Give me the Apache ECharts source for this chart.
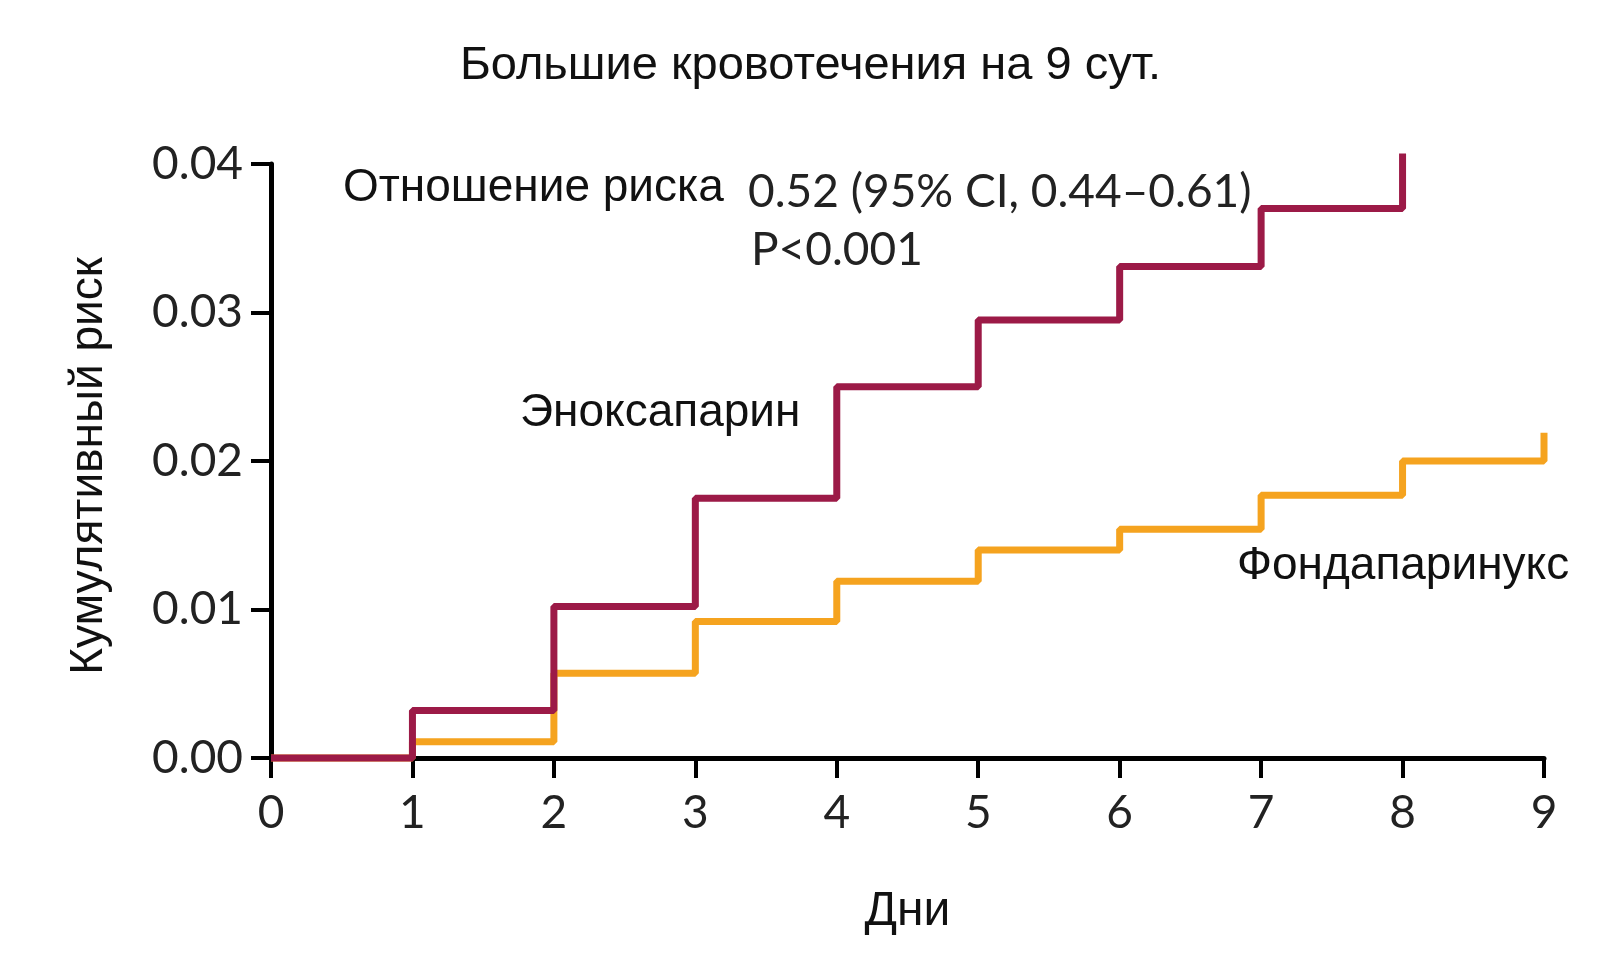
<!DOCTYPE html>
<html>
<head>
<meta charset="utf-8">
<script src="https://cdn.jsdelivr.net/npm/echarts@6/dist/echarts.min.js"></script>
<style>
  html, body { margin: 0; padding: 0; background: #fff; }
  #chart { width: 1607px; height: 957px; }
</style>
</head>
<body>
<div id="chart"></div>
<script>
// дни наблюдения
var days = [0, 1, 2, 3, 4, 5, 6, 7, 8, 9];
// кумулятивный риск
var enoxaparin = [0, 0.0032, 0.0102, 0.0175, 0.0250, 0.0295, 0.0331, 0.0370, 0.0407];
var fondaparinux = [0, 0.0011, 0.0057, 0.0092, 0.0119, 0.0140, 0.0154, 0.0177, 0.0200, 0.0219];
var yTicks = [0, 0.01, 0.02, 0.03, 0.04];

var myChart = echarts.init(document.getElementById('chart'));

function toPairs(vals) {
  return vals.map(function (v, i) { return [days[i], v]; });
}

var numFont = 'Lato';
var textFont = '"Liberation Sans", Arial, sans-serif';

var option = {
  backgroundColor: '#fff',
  animation: false,
  title: {
    text: 'Большие кровотечения на 9 сут.',
    left: 455,
    top: 38,
    textStyle: { fontFamily: textFont, fontSize: 47, fontWeight: 'normal', color: '#111' }
  },
  grid: { left: 271, right: 63, top: 164, bottom: 199 },
  xAxis: {
    type: 'value',
    min: 0,
    max: 9,
    interval: 1,
    name: 'Дни',
    nameLocation: 'middle',
    nameGap: 130,
    nameTextStyle: { fontFamily: textFont, fontSize: 48, color: '#111' },
    axisLine: { lineStyle: { color: '#000', width: 5 } },
    axisTick: { length: 20, lineStyle: { color: '#000', width: 4 } },
    axisLabel: { fontFamily: numFont, fontSize: 46, color: '#222', margin: 32 },
    splitLine: { show: false }
  },
  yAxis: {
    type: 'value',
    min: 0,
    max: 0.04,
    interval: 0.01,
    name: 'Кумулятивный риск',
    nameLocation: 'middle',
    nameGap: 159,
    nameTextStyle: { fontFamily: textFont, fontSize: 46, color: '#111', padding: [0, 10, 0, 0] },
    axisLine: { show: true, lineStyle: { color: '#000', width: 5 } },
    axisTick: { show: true, length: 20, lineStyle: { color: '#000', width: 4 } },
    axisLabel: {
      fontFamily: numFont, fontSize: 46, color: '#222', margin: 28,
      formatter: function (v) { return v.toFixed(2); }
    },
    splitLine: { show: false }
  },
  series: [
    {
      name: 'Фондапаринукс',
      type: 'line',
      step: 'end',
      symbol: 'none',
      clip: false,
      lineStyle: { color: '#f5a31f', width: 7 },
      data: toPairs(fondaparinux)
    },
    {
      name: 'Эноксапарин',
      type: 'line',
      step: 'end',
      symbol: 'none',
      clip: false,
      lineStyle: { color: '#9c1a47', width: 7 },
      data: toPairs(enoxaparin)
    }
  ],
  graphic: [
    { type: 'text', left: 343, top: 165, style: { text: 'Отношение риска', font: '46px ' + textFont, fill: '#111' } },
    { type: 'text', left: 748, top: 169, style: { text: '0.52 (95% CI, 0.44–0.61)', font: '46px ' + numFont, fill: '#222' } },
    { type: 'text', left: 751, top: 227, style: { text: 'P<0.001', font: '46px ' + numFont, fill: '#222' } },
    { type: 'text', left: 520, top: 390, style: { text: 'Эноксапарин', font: '46px ' + textFont, fill: '#111' } },
    { type: 'text', left: 1237, top: 543, style: { text: 'Фондапаринукс', font: '46px ' + textFont, fill: '#111' } }
  ]
};

myChart.setOption(option, true);
</script>
</body>
</html>
